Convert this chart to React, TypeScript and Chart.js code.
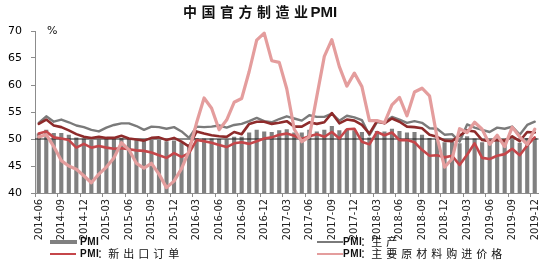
import React, { useEffect, useRef } from 'react';
import { Chart, registerables } from 'chart.js';

Chart.register(...registerables);

const months = [
  '2014-06', '2014-07', '2014-08', '2014-09', '2014-10', '2014-11', '2014-12',
  '2015-01', '2015-02', '2015-03', '2015-04', '2015-05', '2015-06', '2015-07', '2015-08', '2015-09', '2015-10', '2015-11', '2015-12',
  '2016-01', '2016-02', '2016-03', '2016-04', '2016-05', '2016-06', '2016-07', '2016-08', '2016-09', '2016-10', '2016-11', '2016-12',
  '2017-01', '2017-02', '2017-03', '2017-04', '2017-05', '2017-06', '2017-07', '2017-08', '2017-09', '2017-10', '2017-11', '2017-12',
  '2018-01', '2018-02', '2018-03', '2018-04', '2018-05', '2018-06', '2018-07', '2018-08', '2018-09', '2018-10', '2018-11', '2018-12',
  '2019-01', '2019-02', '2019-03', '2019-04', '2019-05', '2019-06', '2019-07', '2019-08', '2019-09', '2019-10', '2019-11', '2019-12',
];

const pmi = [
  51.0, 51.7, 51.1, 51.1, 50.8, 50.3, 50.1,
  49.8, 49.9, 50.1, 50.1, 50.2, 50.2, 50.0, 49.7, 49.8, 49.8, 49.6, 49.7,
  49.4, 49.0, 50.2, 50.1, 50.1, 50.0, 49.9, 50.4, 50.4, 51.2, 51.7, 51.4,
  51.3, 51.6, 51.8, 51.2, 51.2, 51.7, 51.4, 51.7, 52.4, 51.6, 51.8, 51.6,
  51.3, 50.3, 51.5, 51.4, 51.9, 51.5, 51.2, 51.3, 50.8, 50.2, 50.0, 49.4,
  49.5, 49.2, 50.5, 50.1, 49.4, 49.4, 49.7, 49.5, 49.8, 49.3, 50.2, 50.2,
];

const production = [
  53.0, 54.2, 53.2, 53.6, 53.1, 52.5, 52.2,
  51.7, 51.4, 52.1, 52.6, 52.9, 52.9, 52.4, 51.7, 52.3, 52.2, 51.9, 52.2,
  51.4, 50.2, 52.3, 52.2, 52.3, 52.5, 52.1, 52.6, 52.8, 53.3, 53.9, 53.3,
  53.1, 53.7, 54.2, 53.8, 53.4, 54.4, 54.1, 54.1, 54.7, 53.4, 54.3, 54.0,
  53.5, 50.7, 53.1, 53.1, 54.1, 53.6, 53.0, 53.3, 53.0, 52.0, 51.9, 50.8,
  50.9, 49.5, 52.7, 52.1, 51.7, 51.3, 52.1, 51.9, 52.3, 50.8, 52.6, 53.2,
];

const newOrders = [
  52.8, 53.6, 52.5, 52.2, 51.6, 50.9, 50.4,
  50.2, 50.4, 50.2, 50.2, 50.6, 50.1, 49.9, 49.7, 50.2, 50.3, 49.8, 50.2,
  49.5, 48.6, 51.4, 51.0, 50.7, 50.5, 50.4, 51.3, 50.9, 52.8, 53.2, 53.2,
  52.8, 53.0, 53.3, 52.3, 52.3, 53.1, 52.8, 53.1, 54.8, 52.9, 53.6, 53.4,
  52.6, 51.0, 53.3, 52.9, 53.8, 53.2, 52.3, 52.2, 52.0, 50.8, 50.4, 49.7,
  49.6, 50.6, 51.6, 51.4, 49.8, 49.6, 49.8, 49.7, 50.5, 49.6, 51.3, 51.2,
];

const newExportOrders = [
  51.0, 51.4, 50.3, 50.1, 49.8, 48.4, 49.1,
  48.4, 48.7, 48.4, 48.2, 48.3, 48.1, 47.9, 47.8, 47.5, 47.0, 46.5, 47.4,
  46.7, 47.4, 49.8, 49.6, 49.3, 48.9, 48.5, 49.2, 49.4, 49.1, 49.6, 50.1,
  50.3, 50.8, 51.0, 50.6, 50.0, 50.5, 50.9, 50.4, 51.3, 50.1, 51.8, 51.9,
  49.5, 49.0, 51.3, 50.7, 51.2, 49.8, 49.8, 49.4, 48.0, 46.9, 47.0, 46.6,
  46.9, 45.2, 47.1, 49.2, 46.5, 46.3, 46.9, 47.2, 48.2, 47.0, 48.8, 50.3,
];

const rawMaterialPrice = [
  50.4, 50.8, 48.6, 46.0, 45.0, 44.4, 43.2,
  41.9, 43.5, 44.8, 46.5, 49.3, 48.0, 45.5, 44.6, 45.5, 43.5, 41.0, 42.2,
  44.5, 47.8, 53.0, 57.6, 55.7, 51.7, 53.5, 56.8, 57.5, 62.5, 68.3, 69.6,
  64.5, 64.2, 59.3, 51.8, 49.5, 50.4, 57.9, 65.3, 68.4, 63.4, 59.8, 62.2,
  59.7, 53.4, 53.4, 53.0, 56.3, 57.7, 54.3, 58.7, 59.4, 58.0, 50.3, 44.8,
  46.3, 51.9, 51.2, 53.1, 51.8, 49.0, 50.7, 48.6, 52.2, 50.4, 49.0, 51.8,
];

const yMin = 40;
const yMax = 70;
const yStep = 5;
const referenceLevel = 50;

const titleCjk = '中国官方制造业';
const titleLatin = 'PMI';
const unitLabel = '%';

const seriesNames = {
  pmi: 'PMI',
  production: 'PMI：生产',
  newOrders: 'PMI：新订单',
  newExportOrders: 'PMI：新出口订单',
  rawMaterialPrice: 'PMI：主要原材料购进价格',
};

const COLORS = {
  bar: '#808080',
  production: '#7a7a7a',
  newOrders: '#8e2b2b',
  newExportOrders: '#c5464a',
  rawMaterialPrice: '#e49d9d',
  axis: '#8c8c8c',
  text: '#111111',
  ref: '#1a1a1a',
};

const CJK = '"Noto Sans CJK SC", sans-serif';
const LATIN = '"Liberation Sans", Arial, sans-serif';

function drawLabel(ctx: CanvasRenderingContext2D, text: string, x: number, y: number) {
  // text like "PMI：生产"
  const idx = text.indexOf('：');
  const latin = idx >= 0 ? text.slice(0, idx) : text;
  const rest = idx >= 0 ? text.slice(idx + 1) : '';
  ctx.fillStyle = COLORS.text;
  ctx.textBaseline = 'middle';
  ctx.textAlign = 'left';
  (ctx as any).letterSpacing = '0.5px';
  ctx.font = `bold 10px ${LATIN}`;
  ctx.fillText(latin, x, y + 0.5);
  let cx = x + ctx.measureText(latin).width;
  if (idx >= 0) {
    (ctx as any).letterSpacing = '0px';
    ctx.font = `11px ${CJK}`;
    ctx.fillText('：', cx - 2, y);
    cx += 9;
    (ctx as any).letterSpacing = '4px';
    ctx.fillText(rest, cx, y);
  }
  (ctx as any).letterSpacing = '0px';
}

const decorPlugin = {
  id: 'decor',
  afterDatasetDraw(chart: any, args: any) {
    if (args.meta.type !== 'bar') return;
    const { ctx, chartArea, scales } = chart;
    const y = scales.y.getPixelForValue(referenceLevel);
    ctx.save();
    ctx.strokeStyle = COLORS.ref;
    ctx.lineWidth = 1.2;
    ctx.beginPath();
    ctx.moveTo(chartArea.left, y);
    ctx.lineTo(chartArea.right, y);
    ctx.stroke();
    ctx.restore();
  },
  afterDraw(chart: any) {
    const { ctx, chartArea } = chart;
    ctx.save();
    // title
    ctx.textBaseline = 'middle';
    ctx.textAlign = 'left';
    ctx.fillStyle = COLORS.text;
    ctx.font = `bold 14px ${CJK}`;
    (ctx as any).letterSpacing = '4.5px';
    const w1 = ctx.measureText(titleCjk).width;
    (ctx as any).letterSpacing = '0px';
    ctx.font = `bold 15px ${LATIN}`;
    const w2 = ctx.measureText(titleLatin).width;
    const tx = 261 - (w1 + w2) / 2;
    ctx.font = `bold 14px ${CJK}`;
    (ctx as any).letterSpacing = '4.5px';
    ctx.fillText(titleCjk, tx, 12);
    (ctx as any).letterSpacing = '0px';
    ctx.font = `bold 15px ${LATIN}`;
    ctx.fillText(titleLatin, tx + w1 - 2, 12.5);

    // unit
    ctx.font = `11px "DejaVu Sans", sans-serif`;
    ctx.fillText(unitLabel, chartArea.left + 12, chartArea.top);

    // legend
    const rows = [242, 254];
    const cols = [50, 317];
    const items = [
      { name: seriesNames.pmi, color: COLORS.bar, bar: true, col: 0, row: 0 },
      { name: seriesNames.production, color: COLORS.production, bar: false, col: 1, row: 0 },
      { name: seriesNames.newExportOrders, color: COLORS.newExportOrders, bar: false, col: 0, row: 1 },
      { name: seriesNames.rawMaterialPrice, color: COLORS.rawMaterialPrice, bar: false, col: 1, row: 1 },
    ];
    items.forEach((it) => {
      const x = cols[it.col];
      const y = rows[it.row];
      if (it.bar) {
        ctx.fillStyle = it.color;
        ctx.fillRect(x, y - 2, 27, 4);
      } else {
        ctx.strokeStyle = it.color;
        ctx.lineWidth = 2;
        ctx.beginPath();
        ctx.moveTo(x, y);
        ctx.lineTo(x + 26, y);
        ctx.stroke();
      }
      drawLabel(ctx, it.name, x + (it.col === 0 ? 30 : 26), y);
    });
    ctx.restore();
  },
};

export default function App() {
  const canvasRef = useRef<HTMLCanvasElement | null>(null);

  useEffect(() => {
    const canvas = canvasRef.current;
    if (!canvas) return;
    const lineCommon = {
      type: 'line' as const,
      pointRadius: 0,
      pointHoverRadius: 0,
      tension: 0,
      fill: false,
      borderJoinStyle: 'round' as const,
      borderCapStyle: 'round' as const,
    };
    const chart = new Chart(canvas, {
      type: 'bar',
      data: {
        labels: months,
        datasets: [
          { ...lineCommon, label: seriesNames.rawMaterialPrice, data: rawMaterialPrice, borderColor: COLORS.rawMaterialPrice, borderWidth: 3.2, order: 1 } as any,
          { ...lineCommon, label: seriesNames.newExportOrders, data: newExportOrders, borderColor: COLORS.newExportOrders, borderWidth: 2.6, order: 2 } as any,
          { ...lineCommon, label: seriesNames.newOrders, data: newOrders, borderColor: COLORS.newOrders, borderWidth: 2.6, order: 3 } as any,
          { ...lineCommon, label: seriesNames.production, data: production, borderColor: COLORS.production, borderWidth: 2.4, order: 4 } as any,
          { type: 'bar', label: seriesNames.pmi, data: pmi, backgroundColor: COLORS.bar, barPercentage: 0.55, categoryPercentage: 1, order: 5 } as any,
        ],
      },
      options: {
        animation: false,
        responsive: false,
        maintainAspectRatio: false,
        events: [],
        layout: { padding: { top: 31, right: 9, left: 0, bottom: 0 } },
        plugins: {
          legend: { display: false },
          title: { display: false },
          tooltip: { enabled: false },
        },
        scales: {
          x: {
            offset: true,
            grid: {
              display: true,
              drawOnChartArea: false,
              drawTicks: true,
              tickLength: 4,
              offset: true,
              tickColor: (c: any) => (c.index % 3 === 0 ? COLORS.axis : 'rgba(0,0,0,0)'),
            },
            border: { display: true, color: COLORS.axis, width: 1 },
            ticks: {
              autoSkip: false,
              maxRotation: 90,
              minRotation: 90,
              padding: 2,
              color: '#222',
              font: { family: '"Liberation Sans Narrow", "DejaVu Sans Condensed", "Arial Narrow", sans-serif', size: 11 },
              callback: (_v: any, i: number) => (i % 3 === 0 ? months[i] : ''),
            },
            afterFit: (s: any) => {
              s.height = 71;
            },
          },
          y: {
            min: yMin,
            max: yMax,
            grid: {
              display: true,
              drawOnChartArea: false,
              drawTicks: true,
              tickLength: 4,
              tickColor: COLORS.axis,
            },
            border: { display: true, color: COLORS.axis, width: 1 },
            ticks: {
              stepSize: yStep,
              padding: 9,
              color: '#000',
              font: { family: '"DejaVu Sans", sans-serif', size: 11 },
            },
            afterFit: (s: any) => {
              s.width = 35;
            },
          },
        },
      },
      plugins: [decorPlugin],
    });
    return () => chart.destroy();
  }, []);

  return (
    <div style={{ position: 'absolute', left: 0, top: 0, width: 550, height: 264, background: '#fff' }}>
      <canvas ref={canvasRef} width={550} height={264} style={{ display: 'block', width: 550, height: 264 }} />
    </div>
  );
}
